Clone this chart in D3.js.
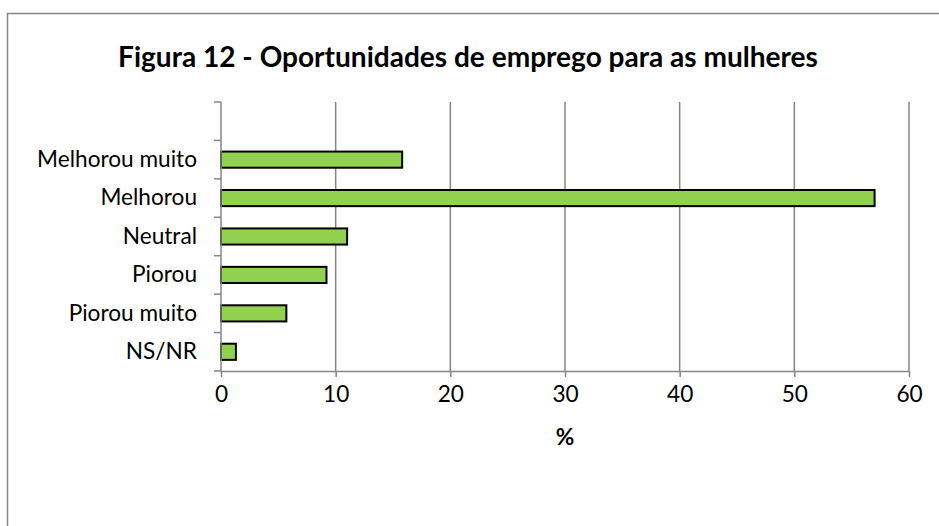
<!DOCTYPE html>
<html>
<head>
<meta charset="utf-8">
<script src="https://cdn.jsdelivr.net/npm/d3@7"></script>
<style>
	body{margin:0;background:#fff;}
	svg{display:block;}
	svg text{font-family:Lato,'Open Sans',sans-serif;fill:#000;}
	.axis path,.axis line{stroke:#868686;stroke-width:1.5;}
</style>
</head>
<body>
<svg id="chart" width="939" height="526"></svg>
<script>
const title = 'Figura 12 - Oportunidades de emprego para as mulheres';
const categories = ['Melhorou muito','Melhorou','Neutral','Piorou','Piorou muito','NS/NR'];
const values = [15.8,57.0,11.0,9.2,5.7,1.3];
const xTicks = [0,10,20,30,40,50,60];
const xLabel = '%';

const svg = d3.select('#chart');
const width = 939, height = 526;
const margin = {left:221,right:30,top:102,bottom:155};

// fit a text node to a target width
function fitWidth(sel,target){
	const w = sel.node().getComputedTextLength();
	const fs = parseFloat(sel.style('font-size'));
	sel.style('font-size',(fs*target/w)+'px');
}

// outer frame (runs past the right and bottom edges)
svg.append('rect')
	.attr('x',7.5).attr('y',13.5)
	.attr('width',width).attr('height',height)
	.attr('fill','none').attr('stroke','#868686').attr('stroke-width',1.5);

const titleText = svg.append('text')
	.attr('x',468).attr('y',67)
	.attr('text-anchor','middle')
	.style('font-size','22px').style('font-weight','bold')
	.text(title);
fitWidth(titleText,700);

const data = categories.map((c,i)=>({cat:c,value:values[i]}));

// blank slot on top, like the original
const y = d3.scaleBand()
	.domain([' '].concat(categories))
	.range([margin.top,height-margin.bottom])
	.paddingInner(0.58).paddingOuter(0.29);
const x = d3.scaleLinear()
	.domain([0,60])
	.range([margin.left,width-margin.right]);

const plotTop = margin.top, plotBottom = height-margin.bottom;

// gridlines
svg.append('g')
	.selectAll('line')
	.data(xTicks.filter(d=>d>0))
	.join('line')
		.attr('x1',d=>x(d)).attr('x2',d=>x(d))
		.attr('y1',plotTop).attr('y2',plotBottom)
		.attr('stroke','#868686').attr('stroke-width',1.5);

// bars
svg.append('g')
	.selectAll('rect')
	.data(data)
	.join('rect')
		.attr('x',x(0))
		.attr('y',d=>y(d.cat))
		.attr('width',d=>x(d.value)-x(0))
		.attr('height',y.bandwidth())
		.attr('fill','#92D050')
		.attr('stroke','#000').attr('stroke-width',2);

// x axis
const xAxis = svg.append('g')
	.classed('axis',true)
	.attr('transform','translate(0,'+plotBottom+')')
	.call(d3.axisBottom(x).tickValues(xTicks).tickSize(6).tickSizeOuter(0).tickPadding(9));
xAxis.attr('font-family',null).attr('font-size',null);

// y axis, ticks sit on the band edges
const step = y.step();
const yAxis = svg.append('g')
	.classed('axis',true)
	.attr('transform','translate('+x(0)+',0)')
	.call(d3.axisLeft(y).tickSize(0).tickSizeOuter(0).tickPadding(24));
yAxis.attr('font-family',null).attr('font-size',null);
yAxis.selectAll('text').style('font-size','17px');
const longest = yAxis.selectAll('text').filter(d=>d==='Melhorou muito');
const labelSize = 17*160/longest.node().getComputedTextLength();
yAxis.selectAll('text').style('font-size',labelSize+'px');
xAxis.selectAll('text').style('font-size',labelSize+'px');
yAxis.select('path.domain').attr('d','M0,'+plotTop+'V'+plotBottom);
yAxis.selectAll('line.edge')
	.data(d3.range(y.domain().length+1))
	.join('line')
		.classed('edge',true)
		.attr('x1',-7).attr('x2',0)
		.attr('y1',d=>plotTop+d*step).attr('y2',d=>plotTop+d*step);

svg.append('text')
	.attr('x',(x(0)+x(60))/2).attr('y',445)
	.attr('text-anchor','middle')
	.style('font-size',labelSize+'px').style('font-weight','bold')
	.text(xLabel);
</script>
</body>
</html>
